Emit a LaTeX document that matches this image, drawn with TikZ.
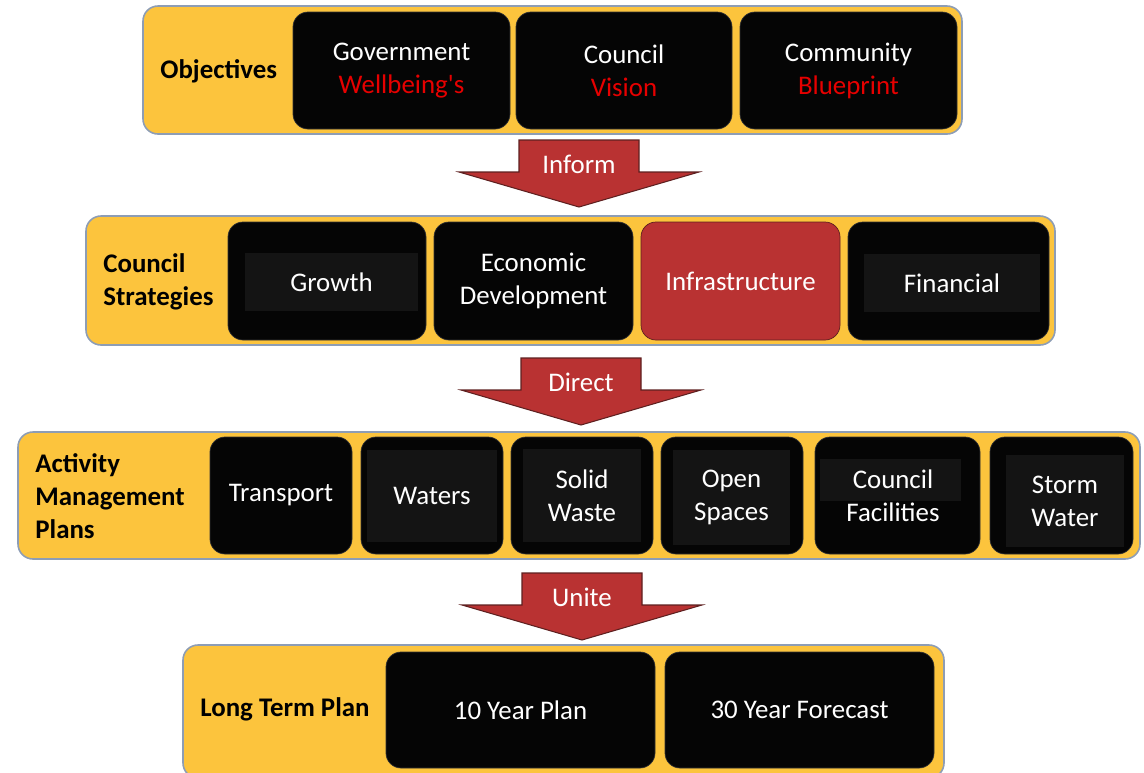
\documentclass[tikz,border=0pt]{standalone}
\usepackage{fontspec}
\setmainfont{Carlito}
\usepackage{tikz}
\usetikzlibrary{fit, calc}
\usepackage{xcolor}
\definecolor{bandyellow}{HTML}{FCC43D}
\definecolor{bandline}{HTML}{8D9DB5}
\definecolor{tileblack}{HTML}{050505}
\definecolor{panelgray}{HTML}{141414}
\definecolor{accentred}{HTML}{B93232}
\definecolor{arrowline}{HTML}{5E2020}
\definecolor{hired}{HTML}{E60000}
\newcommand{\tilefont}{\fontsize{15.3}{18.8}\selectfont}

\begin{document}
\begin{tikzpicture}[x=0.02cm, y=-0.02cm,
    band/.style={draw=bandline, line width=0.9pt, fill=bandyellow,
                 rounded corners=0.3cm, inner sep=0pt},
    tile/.style={draw=black!80, fill=tileblack, rounded corners=0.3cm,
                 inner sep=0pt},
    panel/.style={fill=panelgray, inner sep=0pt},
    tiletext/.style={inner sep=0pt, text=white, align=center, font=\tilefont},
    caption/.style={inner sep=0pt, align=left, font=\bfseries\tilefont},
    pics/flowarrow/.style={code={
      \draw[fill=accentred, draw=arrowline, line width=0.6pt]
        (-60,0) -- (60,0) -- (60,32) -- (120,32) -- (0,67)
        -- (-120,32) -- (-60,32) -- cycle;
      \node[tiletext] (-label) at (0,24) {#1};
    }}
  ]
    \useasboundingbox (0,0) rectangle (1144,772);

    % objectives
    \node[band, fit={(143,6) (962,134)}] (objband) {};
    \node[caption, anchor=west] (objlabel) at (160,71) {Objectives};
    \node[tile, fit={(293,12) (510,129)},
      label={[tiletext]center:{Government\\\textcolor{hired}{Wellbeing\textquotesingle s}}}]
      (govt) {};
    \node[tile, fit={(516,12) (732,129)},
      label={[tiletext]center:{Council\\\textcolor{hired}{Vision}}}] (vision) {};
    \node[tile, fit={(740,12) (957,129)},
      label={[tiletext]center:{Community\\\textcolor{hired}{Blueprint}}}]
      (blueprint) {};

    \pic (inform) at (579,140) {flowarrow=Inform};

    % council strategies
    \node[band, fit={(86,216) (1055,345)}] (stratband) {};
    \node[caption, anchor=west] (stratlabel) at (103,281.5)
      {Council\\Strategies};
    \node[tile, fit={(228,222) (426,340)}] (growth) {};
    \node[panel, fit={(245,253) (418,311)},
      label={[tiletext]center:Growth}] (growthpanel) {};
    \node[tile, fit={(434,222) (633,340)},
      label={[tiletext]center:{Economic\\Development}}] (econ) {};
    \node[tile, fill=accentred, draw=arrowline, fit={(641,222) (840,340)},
      label={[tiletext]center:Infrastructure}] (infra) {};
    \node[tile, fit={(848,222) (1049,340)}] (fin) {};
    \node[panel, fit={(864,254) (1040,312)},
      label={[tiletext]center:Financial}] (finpanel) {};

    \pic (direct) at (581,358) {flowarrow=Direct};

    % activity management plans
    \node[band, fit={(18,432) (1140,559)}] (amband) {};
    \node[caption, anchor=west] (amlabel) at (35,496)
      {Activity\\Management\\Plans};
    \node[tile, fit={(210,437) (352,554)},
      label={[tiletext]center:Transport}] (transport) {};
    \node[tile, fit={(361,437) (503,554)}] (waters) {};
    \node[panel, fit={(367,450) (497,542)},
      label={[tiletext]center:Waters}] (waterspanel) {};
    \node[tile, fit={(511,437) (653,554)}] (solid) {};
    \node[panel, fit={(523,449) (641,542)},
      label={[tiletext]center:{Solid\\Waste}}] (solidpanel) {};
    \node[tile, fit={(661,437) (803,554)}] (open) {};
    \node[panel, fit={(673,450) (790,545)},
      label={[tiletext]center:{Open\\Spaces}}] (openpanel) {};
    \node[tile, fit={(815,437) (980,554)}] (facil) {};
    \node[panel, fit={(820,459) (961,501)}] (facilpanel) {};
    \node[tiletext] (faciltext) at (893,496) {Council\\Facilities};
    \node[tile, fit={(990,437) (1133,554)}] (storm) {};
    \node[panel, fit={(1006,455) (1124,547)},
      label={[tiletext]center:{Storm\\Water}}] (stormpanel) {};

    \pic (unite) at (582,573) {flowarrow=Unite};

    % long term plan
    \node[band, fit={(183,645) (944,778)}] (ltpband) {};
    \node[caption, anchor=west] (ltplabel) at (200,709) {Long Term Plan};
    \node[tile, fit={(386,652) (655,768)},
      label={[tiletext]center:10 Year Plan}] (tenyear) {};
    \node[tile, fit={(665,652) (934,768)},
      label={[tiletext]center:30 Year Forecast}] (thirtyyear) {};
  \end{tikzpicture}
\end{document}
